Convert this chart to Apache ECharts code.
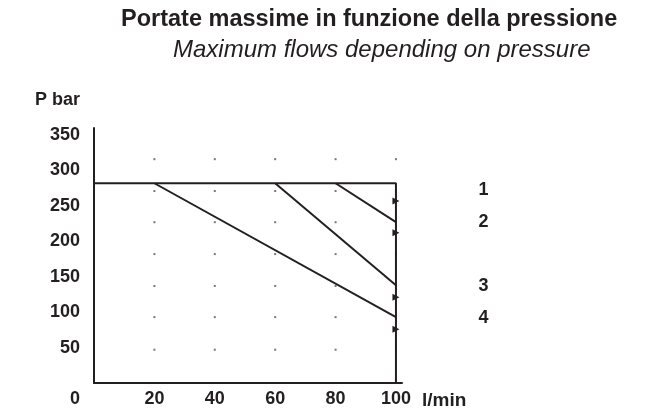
<!DOCTYPE html>
<html>
<head>
<meta charset="utf-8">
<script src="https://cdn.jsdelivr.net/npm/echarts@6/dist/echarts.min.js"></script>
<style>
html,body{margin:0;padding:0;background:#fff;}
#chart{width:652px;height:412px;}
</style>
</head>
<body>
<div id="chart"></div>
<script>
// ---- data ----
const titleText = 'Portate massime in funzione della pressione';
const subtitleText = 'Maximum flows depending on pressure';
const yName = 'P bar';
const xName = 'l/min';
const xTicks = [0, 20, 40, 60, 80, 100];
const yTicks = [50, 100, 150, 200, 250, 300, 350];
// envelope: max pressure line and vertical limit at 100 l/min
const envelope = [[0, 282], [100, 282], [100, 0]];
// limit curves (flow, pressure)
const curve4 = [[20, 282], [100, 93]];
const curve3 = [[60, 282], [100, 138]];
const curve2 = [[80, 282], [100, 227]];
// setting markers on the 100 l/min line with their numbers
const markerNames = ['1', '2', '3', '4'];
const markerValues = [257, 212, 121, 76];
// dotted background grid
const dotFlows = [20, 40, 60, 80, 100];
const dotPressures = [316, 271, 227, 182, 137, 93, 47];

const ink = '#231f20';
const font = '"Liberation Sans", Arial, Helvetica, sans-serif';

const dots = [];
dotFlows.forEach(f => dotPressures.forEach(p => dots.push([f, p])));
const markers = markerNames.map((n, i) => ({ name: n, value: [100, markerValues[i]] }));

const lineSeries = (data) => ({
  type: 'line', data: data, symbol: 'none', silent: true,
  lineStyle: { color: ink, width: 2 }, z: 3
});

const chart = echarts.init(document.getElementById('chart'), null, { renderer: 'canvas' });
chart.setOption({
  animation: false,
  backgroundColor: '#fff',
  title: [
    { text: titleText, left: 116, top: 3,
      textStyle: { fontFamily: font, fontSize: 23.5, fontWeight: 'bold', color: ink } },
    { text: subtitleText, left: 168, top: 33,
      textStyle: { fontFamily: font, fontSize: 24, fontWeight: 'normal', fontStyle: 'italic', color: ink } }
  ],
  grid: { left: 94, right: 250, top: 128, bottom: 29, containLabel: false },
  xAxis: {
    type: 'value', min: 0, max: 102,
    name: xName, nameLocation: 'end', nameGap: 20,
    nameTextStyle: { fontFamily: font, fontSize: 19, fontWeight: 'bold', color: ink,
      align: 'left', verticalAlign: 'top', padding: [8, 0, 0, 0] },
    axisLine: { show: true, lineStyle: { color: ink, width: 2 } },
    axisTick: { show: false },
    splitLine: { show: false },
    axisLabel: {
      customValues: xTicks, margin: 7,
      fontFamily: font, fontSize: 18, fontWeight: 'bold', color: ink,
      formatter: v => v === 0 ? '{z|0}' : String(v),
      rich: { z: { fontFamily: font, fontSize: 18, fontWeight: 'bold', color: ink, padding: [0, 38, 0, 0] } }
    }
  },
  yAxis: {
    type: 'value', min: 0, max: 360,
    name: yName, nameLocation: 'end', nameGap: 28,
    nameTextStyle: { fontFamily: font, fontSize: 18, fontWeight: 'bold', color: ink,
      align: 'right', verticalAlign: 'middle', padding: [0, 14, 0, 0] },
    axisLine: { show: true, lineStyle: { color: ink, width: 2 } },
    axisTick: { show: false },
    splitLine: { show: false },
    axisLabel: {
      customValues: yTicks, margin: 14,
      fontFamily: font, fontSize: 18, fontWeight: 'bold', color: ink
    }
  },
  series: [
    { type: 'scatter', data: dots, symbol: 'rect', symbolSize: 2, silent: true,
      itemStyle: { color: '#555' }, z: 1 },
    lineSeries(envelope),
    lineSeries(curve4),
    lineSeries(curve3),
    lineSeries(curve2),
    { type: 'scatter', data: markers, symbol: 'triangle', symbolRotate: -90, symbolSize: 7,
      silent: true, itemStyle: { color: ink, opacity: 1 }, z: 4,
      label: { show: true, position: 'right', distance: 0, offset: [84, -11],
        align: 'center', verticalAlign: 'middle', formatter: p => p.name,
        fontFamily: font, fontSize: 18, fontWeight: 'bold', color: ink } }
  ]
});
</script>
</body>
</html>
